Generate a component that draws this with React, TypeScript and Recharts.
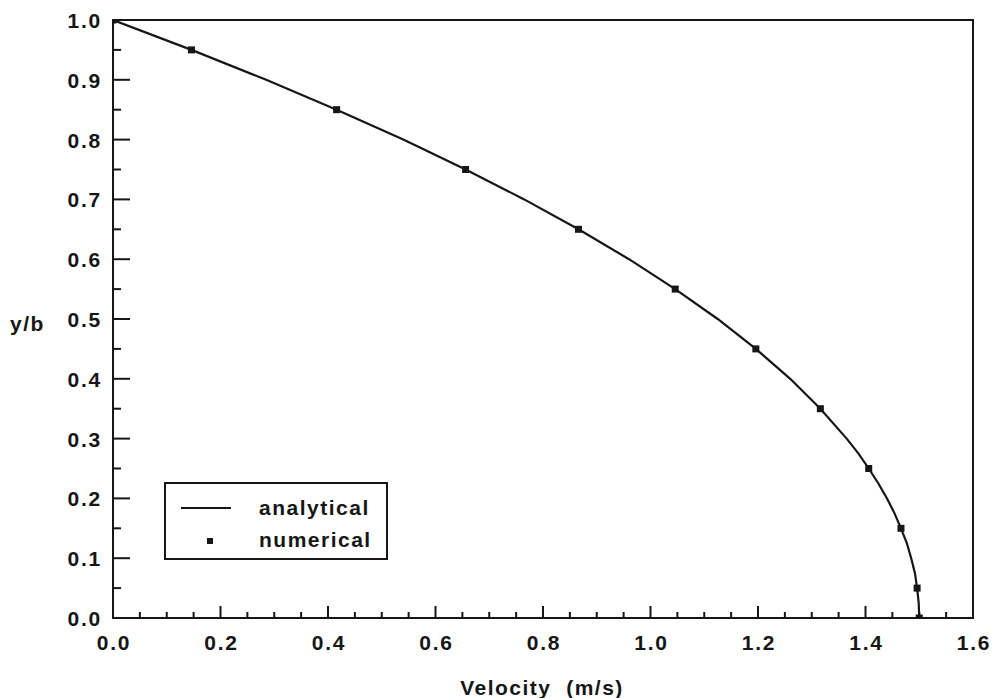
import { ScatterChart, Scatter, XAxis, YAxis, ReferenceArea } from 'recharts'

// values: velocity (m/s) against y/b
const analyticalY = [1.0, 0.95, 0.9, 0.85, 0.8, 0.75, 0.7, 0.65, 0.6, 0.55, 0.5, 0.45, 0.4, 0.35, 0.3, 0.275, 0.25, 0.225, 0.2, 0.175, 0.15, 0.125, 0.1, 0.075, 0.05, 0.025, 0.0]
const analyticalU = [0.0, 0.146, 0.285, 0.416, 0.54, 0.656, 0.765, 0.866, 0.96, 1.046, 1.125, 1.196, 1.26, 1.316, 1.365, 1.387, 1.406, 1.424, 1.44, 1.454, 1.466, 1.477, 1.485, 1.492, 1.496, 1.499, 1.5]

const numericalY = [1.0, 0.95, 0.85, 0.75, 0.65, 0.55, 0.45, 0.35, 0.25, 0.15, 0.05, 0.0]
const numericalU = [0.0, 0.146, 0.416, 0.656, 0.866, 1.046, 1.196, 1.316, 1.406, 1.466, 1.496, 1.5]

const xTicks = [0, 0.05, 0.1, 0.15, 0.2, 0.25, 0.3, 0.35, 0.4, 0.45, 0.5, 0.55, 0.6, 0.65, 0.7, 0.75, 0.8, 0.85, 0.9, 0.95, 1.0, 1.05, 1.1, 1.15, 1.2, 1.25, 1.3, 1.35, 1.4, 1.45, 1.5, 1.55, 1.6]
const yTicks = [0, 0.05, 0.1, 0.15, 0.2, 0.25, 0.3, 0.35, 0.4, 0.45, 0.5, 0.55, 0.6, 0.65, 0.7, 0.75, 0.8, 0.85, 0.9, 0.95, 1.0]

const analytical = analyticalY.map((y, i) => ({ y, u: analyticalU[i] }))
const numerical = numericalY.map((y, i) => ({ y, u: numericalU[i] }))

const INK = '#161616'
const FONT = '"Liberation Sans", Arial, sans-serif'
const textStyle = { fontFamily: FONT, fontSize: 21, fontWeight: 700, letterSpacing: 1.8, fill: INK }
const htmlText = { fontFamily: FONT, fontSize: 21, fontWeight: 700, letterSpacing: 1.5, color: INK, lineHeight: '24px' }

const isMajor = (v: number, step: number) => Math.abs(v / step - Math.round(v / step)) < 1e-6

function XTick({ x, y, payload }: any) {
  const major = isMajor(payload.value, 0.2)
  return (
    <g>
      <line x1={x} y1={y} x2={x} y2={y - (major ? 12 : 6)} stroke={INK} strokeWidth={2} />
      {major && (
        <text x={x + 1} y={y + 32} textAnchor="middle" style={textStyle}>
          {payload.value.toFixed(1)}
        </text>
      )}
    </g>
  )
}

function YTick({ x, y, payload }: any) {
  const major = isMajor(payload.value, 0.1)
  return (
    <g>
      <line x1={x} y1={y} x2={x + (major ? 17 : 8)} y2={y} stroke={INK} strokeWidth={2} />
      {major && (
        <text x={x - 11} y={y + 8} textAnchor="end" style={textStyle}>
          {payload.value.toFixed(1)}
        </text>
      )}
    </g>
  )
}

function Square({ cx, cy }: any) {
  return <rect x={cx - 3.5} y={cy - 3.5} width={7} height={7} fill={INK} />
}

function LegendBox() {
  return (
    <div style={{ position: 'absolute', left: 164, top: 482, width: 220, height: 74, border: `2px solid ${INK}` }}>
      <div style={{ position: 'absolute', left: 15, top: 23, width: 50, height: 2, background: INK }} />
      <div style={{ ...htmlText, position: 'absolute', left: 93, top: 12 }}>analytical</div>
      <div style={{ position: 'absolute', left: 41, top: 54, width: 6, height: 6, background: INK }} />
      <div style={{ ...htmlText, position: 'absolute', left: 93, top: 44 }}>numerical</div>
    </div>
  )
}

export default function App() {
  return (
    <div style={{ position: 'absolute', left: 0, top: 0, width: 992, height: 698, background: '#fff' }}>
      <ScatterChart width={992} height={698} margin={{ top: 20, right: 19, left: 0, bottom: 0 }}>
        <XAxis
          type="number"
          dataKey="u"
          domain={[0, 1.6]}
          ticks={xTicks}
          interval={0}
          height={80}
          tickSize={0}
          tickMargin={0}
          tickLine={false}
          axisLine={{ stroke: INK, strokeWidth: 2 }}
          tick={<XTick />}
          allowDataOverflow
        />
        <YAxis
          type="number"
          dataKey="y"
          domain={[0, 1]}
          ticks={yTicks}
          interval={0}
          width={113}
          tickSize={0}
          tickMargin={0}
          tickLine={false}
          axisLine={{ stroke: INK, strokeWidth: 2 }}
          tick={<YTick />}
          allowDataOverflow
        />
        <ReferenceArea x1={0} x2={1.6} y1={0} y2={1} fill="none" stroke={INK} strokeWidth={2} />
        <Scatter
          name="analytical"
          data={analytical}
          line={{ stroke: INK, strokeWidth: 2.2 }}
          lineType="joint"
          shape={() => <g />}
          isAnimationActive={false}
        />
        <Scatter name="numerical" data={numerical} shape={<Square />} isAnimationActive={false} />
      </ScatterChart>
      <LegendBox />
      <div style={{ ...htmlText, position: 'absolute', left: 0, width: 992, top: 676, textAlign: 'center', paddingLeft: 92, boxSizing: 'border-box' }}>
        Velocity&nbsp; (m/s)
      </div>
      <div style={{ ...htmlText, position: 'absolute', left: 10, top: 312 }}>y/b</div>
    </div>
  )
}
